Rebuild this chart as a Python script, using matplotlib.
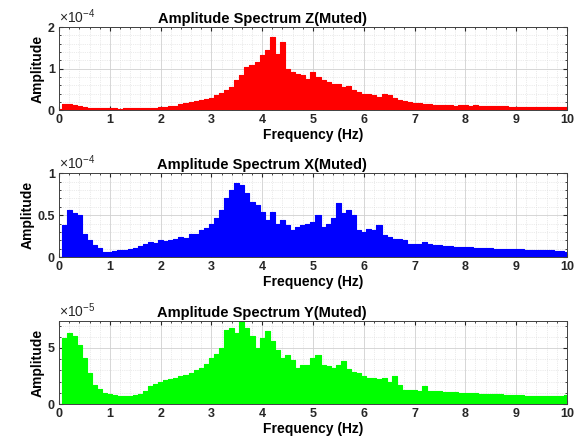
import matplotlib
matplotlib.use("Agg")
import matplotlib.pyplot as plt
import numpy as np
from matplotlib.ticker import FuncFormatter, MultipleLocator

plt.rcParams["font.family"] = ["Liberation Sans", "DejaVu Sans"]
plt.rcParams["mathtext.fontset"] = "custom"
plt.rcParams["mathtext.rm"] = "Liberation Sans"
plt.rcParams["mathtext.default"] = "regular"

# frequency axis, 0.1 Hz spacing
freq = np.round(np.arange(0, 101) * 0.1, 1)

# amplitude Z, units of 1e-4
z_amp = [
    0.02, 0.14, 0.15, 0.12, 0.09, 0.07, 0.06, 0.05, 0.04, 0.04,
    0.04, 0.04, 0.035, 0.04, 0.04, 0.04, 0.045, 0.05, 0.05, 0.06,
    0.07, 0.08, 0.10, 0.11, 0.14, 0.16, 0.19, 0.22, 0.24, 0.27,
    0.30, 0.36, 0.42, 0.48, 0.56, 0.72, 0.85, 1.04, 1.08, 1.16,
    1.33, 1.45, 1.75, 1.35, 1.65, 1.00, 0.93, 0.88, 0.84, 0.76,
    0.92, 0.80, 0.72, 0.68, 0.64, 0.64, 0.56, 0.58, 0.48, 0.44,
    0.40, 0.38, 0.36, 0.32, 0.40, 0.36, 0.28, 0.24, 0.22, 0.20,
    0.18, 0.17, 0.15, 0.14, 0.13, 0.12, 0.12, 0.12, 0.11, 0.12,
    0.12, 0.11, 0.12, 0.11, 0.10, 0.10, 0.10, 0.09, 0.09, 0.08,
    0.08, 0.08, 0.08, 0.07, 0.07, 0.07, 0.07, 0.07, 0.07, 0.08,
    0.08,
]

# amplitude X, units of 1e-4
x_amp = [
    0.0, 0.38, 0.56, 0.52, 0.50, 0.28, 0.20, 0.14, 0.11, 0.06,
    0.06, 0.07, 0.08, 0.09, 0.10, 0.11, 0.13, 0.15, 0.18, 0.17,
    0.20, 0.19, 0.20, 0.22, 0.24, 0.23, 0.28, 0.27, 0.32, 0.35,
    0.40, 0.46, 0.56, 0.70, 0.80, 0.88, 0.86, 0.76, 0.66, 0.62,
    0.54, 0.44, 0.54, 0.40, 0.44, 0.38, 0.32, 0.36, 0.38, 0.40,
    0.42, 0.50, 0.36, 0.40, 0.46, 0.65, 0.52, 0.56, 0.50, 0.32,
    0.30, 0.34, 0.32, 0.38, 0.26, 0.24, 0.22, 0.22, 0.20, 0.155,
    0.155, 0.155, 0.18, 0.15, 0.145, 0.14, 0.135, 0.13, 0.125, 0.12,
    0.115, 0.115, 0.11, 0.11, 0.105, 0.105, 0.10, 0.10, 0.10, 0.095,
    0.095, 0.095, 0.09, 0.09, 0.09, 0.09, 0.085, 0.08, 0.075, 0.07,
    0.06,
]

# amplitude Y, units of 1e-5
y_amp = [
    0.0, 5.9, 6.3, 6.05, 5.3, 4.1, 2.8, 1.7, 1.3, 0.98,
    0.9, 0.8, 0.69, 0.72, 0.69, 0.78, 0.9, 1.2, 1.58, 1.8,
    2.0, 2.1, 2.2, 2.3, 2.47, 2.6, 2.8, 3.0, 3.2, 3.6,
    4.1, 4.5, 5.0, 6.6, 6.8, 6.3, 7.4, 6.8, 6.05, 5.0,
    5.9, 6.5, 5.6, 4.85, 4.1, 4.4, 3.95, 3.2, 3.5, 3.5,
    4.1, 4.4, 3.5, 3.4, 3.2, 3.5, 3.8, 3.1, 2.9, 2.75,
    2.47, 2.3, 2.3, 2.2, 2.3, 2.0, 2.47, 1.7, 1.28, 1.28,
    1.22, 1.2, 1.58, 1.2, 1.15, 1.13, 1.1, 1.08, 1.05, 1.0,
    0.98, 0.97, 0.95, 0.93, 0.92, 0.9, 0.88, 0.86, 0.84, 0.82,
    0.8, 0.78, 0.76, 0.74, 0.72, 0.7, 0.72, 0.74, 0.7, 0.76,
    0.83,
]

panels = [
    ("Amplitude Spectrum Z(Muted)", z_amp, -4, "#ff0000",
     [0.102, 0.752, 0.877, 0.187], 2.0, 1.0, 0.2),
    ("Amplitude Spectrum X(Muted)", x_amp, -4, "#0000ff",
     [0.102, 0.421, 0.877, 0.189], 1.0, 0.5, 0.1),
    ("Amplitude Spectrum Y(Muted)", y_amp, -5, "#00ff00",
     [0.102, 0.090, 0.877, 0.187], 7.4, 5.0, 1.0),
]

fig = plt.figure(figsize=(5.79, 4.44), dpi=100)

for title, values, exp, color, rect, ytop, ymaj, ymin in panels:
    scale = 10.0 ** exp
    amp = np.array(values) * scale
    ax = fig.add_axes(rect)
    ax.fill_between(freq, amp, 0, step="mid", color=color, linewidth=0)
    ax.step(freq, amp, where="mid", color=color, linewidth=0.8)
    ax.set_xlim(0, 10)
    ax.set_ylim(0, ytop * scale)
    ax.xaxis.set_major_locator(MultipleLocator(1))
    ax.xaxis.set_minor_locator(MultipleLocator(0.2))
    ax.yaxis.set_major_locator(MultipleLocator(ymaj * scale))
    ax.yaxis.set_minor_locator(MultipleLocator(ymin * scale))
    ax.yaxis.set_major_formatter(
        FuncFormatter(lambda v, p, s=scale: f"{round(v / s, 3):g}"))
    ax.text(0.0, 1.015, rf"$\times10^{{{exp}}}$", transform=ax.transAxes,
            fontsize=10, color="#262626", ha="left", va="bottom")
    ax.grid(which="major", color="#d0d0d0", linewidth=0.6)
    ax.grid(which="minor", color="#d8d8d8", linewidth=0.5, linestyle=":")
    ax.set_axisbelow(True)
    ax.tick_params(which="both", direction="in", top=True, right=True,
                   labelsize=9, colors="#262626", pad=3)
    ax.tick_params(which="major", length=3)
    ax.tick_params(which="minor", length=1.5)
    for label in ax.get_xticklabels() + ax.get_yticklabels():
        label.set_fontweight("bold")
    for spine in ax.spines.values():
        spine.set_color("#404040")
        spine.set_linewidth(0.7)
    ax.set_xlabel("Frequency (Hz)", fontsize=10, fontweight="bold", labelpad=1)
    ax.set_ylabel("Amplitude", fontsize=10, fontweight="bold", labelpad=2)
    ax.set_title(title, fontsize=10.5, fontweight="bold", x=0.40, pad=3)

fig.savefig("out.png", dpi=100)
